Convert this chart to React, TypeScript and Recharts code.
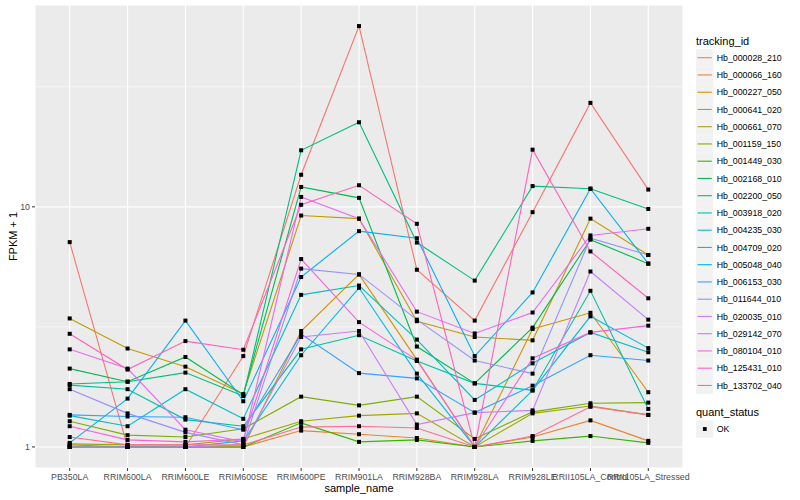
import React from 'react';
import { LineChart, Line, XAxis, YAxis, CartesianGrid } from 'recharts';

const categories = [
  'PB350LA', 'RRIM600LA', 'RRIM600LE', 'RRIM600SE', 'RRIM600PE', 'RRIM901LA',
  'RRIM928BA', 'RRIM928LA', 'RRIM928LE', 'RRII105LA_Control', 'RRII105LA_Stressed',
];

const trackingIds = [
  'Hb_000028_210', 'Hb_000066_160', 'Hb_000227_050', 'Hb_000641_020', 'Hb_000661_070',
  'Hb_001159_150', 'Hb_001449_030', 'Hb_002168_010', 'Hb_002200_050', 'Hb_003918_020',
  'Hb_004235_030', 'Hb_004709_020', 'Hb_005048_040', 'Hb_006153_030', 'Hb_011644_010',
  'Hb_020035_010', 'Hb_029142_070', 'Hb_080104_010', 'Hb_125431_010', 'Hb_133702_040',
];

const colors = [
  '#F8766D', '#EA8331', '#D89000', '#C09B00', '#A3A500', '#7CAE00', '#39B600', '#00BB4E',
  '#00BF7D', '#00C1A3', '#00BFC4', '#00BAE0', '#00B0F6', '#35A2FF', '#9590FF', '#C77CFF',
  '#E76BF3', '#FA62DB', '#FF62BC', '#FF6C91',
];

// FPKM + 1 values per gene, in category order
const hb000028_210 = [7.13, 1.0, 1.0, 2.39, 13.6, 56.6, 5.47, 3.36, 9.5, 27.1, 11.8];
const hb000066_160 = [1.0, 1.0, 1.0, 1.0, 1.17, 1.13, 1.09, 1.0, 1.1, 1.29, 1.06];
const hb000227_050 = [1.02, 1.0, 1.0, 1.0, 3.04, 5.23, 2.31, 1.0, 3.1, 3.62, 1.69];
const hb000641_020 = [3.43, 2.57, 2.16, 1.66, 9.2, 8.93, 3.34, 2.87, 2.78, 8.93, 6.3];
const hb000661_070 = [1.03, 1.02, 1.02, 1.08, 1.28, 1.35, 1.38, 1.0, 1.38, 1.48, 1.36];
const hb001159_150 = [1.28, 1.12, 1.1, 1.19, 1.62, 1.49, 1.62, 1.08, 1.4, 1.52, 1.53];
const hb001449_030 = [1.0, 1.0, 1.0, 1.0, 1.26, 1.05, 1.07, 1.0, 1.06, 1.11, 1.04];
const hb002168_010 = [2.12, 1.87, 2.37, 1.65, 12.1, 10.9, 2.62, 1.84, 3.14, 7.3, 5.8];
const hb002200_050 = [1.83, 1.87, 2.04, 1.63, 17.2, 22.5, 7.1, 4.93, 12.2, 11.9, 9.8];
const hb003918_020 = [1.81, 1.74, 1.3, 1.22, 2.55, 2.92, 2.28, 1.84, 1.72, 4.47, 1.44];
const hb004235_030 = [1.35, 1.22, 1.74, 1.31, 4.3, 4.7, 2.8, 1.57, 2.23, 3.0, 2.48];
const hb004709_020 = [1.0, 1.0, 1.0, 1.06, 2.41, 4.6, 2.02, 1.0, 1.72, 3.5, 2.58];
const hb005048_040 = [1.04, 1.59, 3.36, 1.55, 5.1, 7.92, 7.4, 2.39, 4.4, 11.9, 5.8];
const hb006153_030 = [1.36, 1.34, 1.33, 1.18, 2.95, 2.03, 1.93, 1.39, 1.8, 2.41, 2.29];
const hb011644_010 = [1.74, 1.38, 1.15, 1.02, 5.53, 5.23, 3.39, 2.29, 2.02, 7.4, 6.3];
const hb020035_010 = [1.0, 1.0, 1.0, 1.02, 2.87, 3.04, 1.24, 1.39, 1.42, 5.38, 3.39];
const hb029142_070 = [2.55, 2.12, 1.18, 1.05, 11.0, 8.93, 3.66, 2.97, 3.63, 7.6, 8.1];
const hb080104_010 = [1.22, 1.07, 1.05, 1.08, 6.06, 3.31, 2.3, 1.0, 2.34, 3.0, 3.2];
const hb125431_010 = [2.96, 2.1, 2.76, 2.54, 10.2, 12.3, 8.5, 1.0, 17.3, 6.52, 4.16];
const hb133702_040 = [1.1, 1.02, 1.02, 1.02, 1.21, 1.22, 1.2, 1.0, 1.11, 1.47, 1.36];

const seriesValues = [
  hb000028_210, hb000066_160, hb000227_050, hb000641_020, hb000661_070,
  hb001159_150, hb001449_030, hb002168_010, hb002200_050, hb003918_020,
  hb004235_030, hb004709_020, hb005048_040, hb006153_030, hb011644_010,
  hb020035_010, hb029142_070, hb080104_010, hb125431_010, hb133702_040,
];

const yTicks = [1, 10];
const yMinorTicks = [Math.sqrt(10), 10 * Math.sqrt(10)];
const quantStatus = ['OK'];

const Y_MIN = 0.8173;
const Y_MAX = 69.27;

const data = categories.map((c, i) => {
  const row: Record<string, number | string> = { x: i, name: c };
  trackingIds.forEach((id, k) => {
    row[id] = seriesValues[k][i];
  });
  return row;
});

const FONT = '"Liberation Sans", Arial, Helvetica, sans-serif';

const SquareDot = (props: any) => {
  const { cx, cy, index } = props;
  if (cx == null || cy == null) return <g key={index} />;
  return <rect key={index} x={cx - 2} y={cy - 2} width={4} height={4} fill="#000" />;
};

const minorGen = (props: any) => {
  const off = props && props.offset ? props.offset : { top: 5, height: 463 };
  const lmin = Math.log10(Y_MIN);
  const lmax = Math.log10(Y_MAX);
  return yMinorTicks.map(
    (v) => off.top + off.height * (1 - (Math.log10(v) - lmin) / (lmax - lmin))
  );
};

export default function App() {
  const legendTop = 57.7;
  const step = 17.25;
  return (
    <div style={{ position: 'absolute', left: 0, top: 0, width: 800, height: 500, background: '#fff', fontFamily: FONT }}>
      <LineChart
        width={800}
        height={500}
        data={data}
        margin={{ top: 5, right: 117, bottom: 0, left: 0 }}
      >
        <CartesianGrid fill="#EBEBEB" fillOpacity={1} stroke="#FFFFFF" strokeWidth={1.1} />
        <CartesianGrid
          stroke="#FFFFFF"
          strokeWidth={0.55}
          vertical={false}
          horizontalCoordinatesGenerator={minorGen}
        />
        <XAxis
          dataKey="x"
          type="number"
          domain={[-0.6, 10.6]}
          ticks={categories.map((_, i) => i)}
          tickFormatter={(v: number) => categories[v] ?? ''}
          interval={0}
          height={32}
          axisLine={false}
          tickLine={{ stroke: '#333333' }}
          tickSize={3}
          tickMargin={3}
          tick={{ fontSize: 8.8, fill: '#4D4D4D', fontFamily: FONT }}
          allowDataOverflow
        />
        <YAxis
          type="number"
          scale="log"
          domain={[Y_MIN, Y_MAX]}
          ticks={yTicks}
          allowDataOverflow
          width={35}
          axisLine={false}
          tickLine={{ stroke: '#333333' }}
          tickSize={3}
          tickMargin={2}
          tick={{ fontSize: 8.8, fill: '#4D4D4D', fontFamily: FONT }}
        />
        {trackingIds.map((id, k) => (
          <Line
            key={'l' + id}
            dataKey={id}
            type="linear"
            stroke={colors[k]}
            strokeWidth={1.1}
            dot={false}
            activeDot={false}
            isAnimationActive={false}
            legendType="none"
          />
        ))}
        {trackingIds.map((id) => (
          <Line
            key={'p' + id}
            dataKey={id}
            type="linear"
            stroke="none"
            dot={SquareDot}
            activeDot={false}
            isAnimationActive={false}
            legendType="none"
          />
        ))}
      </LineChart>
      <svg
        width={800}
        height={500}
        style={{ position: 'absolute', left: 0, top: 0, pointerEvents: 'none' }}
        fontFamily={FONT}
      >
        <text x={17} y={236.5} fontSize={11} fill="#000" textAnchor="middle" transform="rotate(-90 17 236.5)">
          FPKM + 1
        </text>
        <text x={359} y={491.5} fontSize={11} fill="#000" textAnchor="middle">
          sample_name
        </text>
        <text x={696} y={44.5} fontSize={11} fill="#000">tracking_id</text>
        {trackingIds.map((id, k) => {
          const cy = legendTop + k * step;
          return (
            <g key={'lg' + id}>
              <rect x={696} y={cy - 8.6} width={17.3} height={17.3} fill="#F2F2F2" />
              <line x1={697.5} x2={711.8} y1={cy} y2={cy} stroke={colors[k]} strokeWidth={1.1} />
              <text x={716.7} y={cy + 3.2} fontSize={8.8} fill="#000">{id}</text>
            </g>
          );
        })}
        <text x={696} y={416.3} fontSize={11} fill="#000">quant_status</text>
        {quantStatus.map((q, k) => {
          const cy = 429 + k * step;
          return (
            <g key={'qs' + q}>
              <rect x={696} y={cy - 8.6} width={17.3} height={17.3} fill="#F2F2F2" />
              <rect x={702.9} y={cy - 1.9} width={3.8} height={3.8} fill="#000" />
              <text x={716.7} y={cy + 3.2} fontSize={8.8} fill="#000">{q}</text>
            </g>
          );
        })}
      </svg>
    </div>
  );
}
